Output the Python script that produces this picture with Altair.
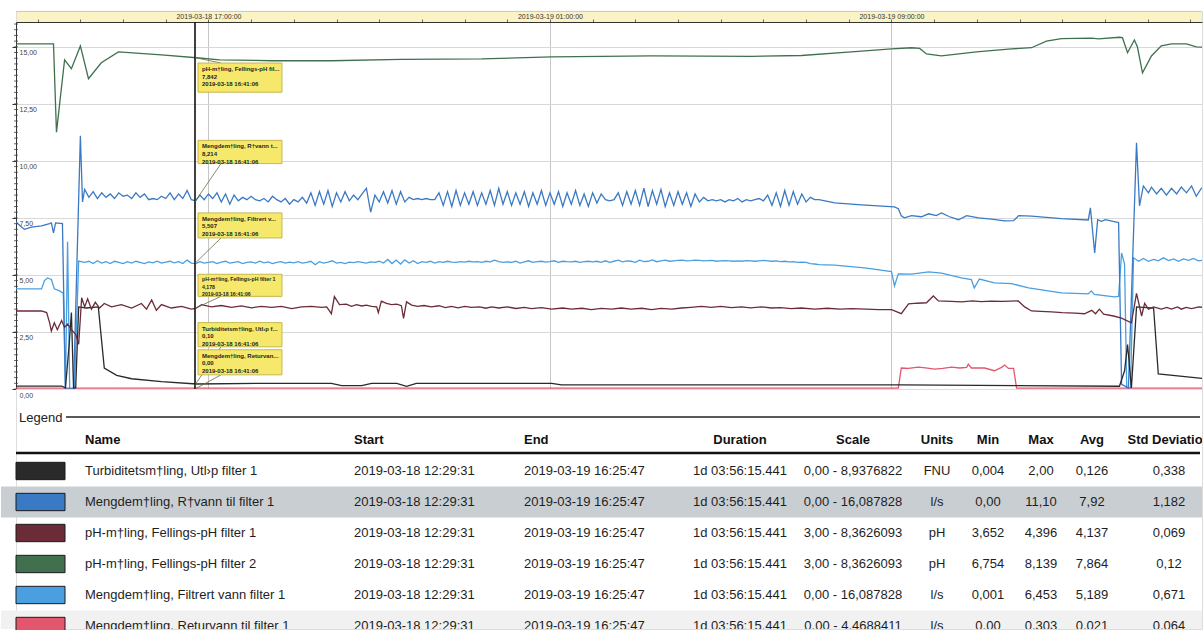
import altair as alt
import numpy as np
import pandas as pd

# ---------------------------------------------------------------- table data
NAMES = [
    "Turbiditetsm†ling, Utl›p filter 1",
    "Mengdem†ling, R†vann til filter 1",
    "pH-m†ling, Fellings-pH filter 1",
    "pH-m†ling, Fellings-pH filter 2",
    "Mengdem†ling, Filtrert vann filter 1",
    "Mengdem†ling, Returvann til filter 1",
]
STARTS = ["2019-03-18 12:29:31"] * 6
ENDS = ["2019-03-19 16:25:47"] * 6
DURATIONS = ["1d 03:56:15.441"] * 6
SCALES = ["0,00 - 8,9376822", "0,00 - 16,087828", "3,00 - 8,3626093",
          "3,00 - 8,3626093", "0,00 - 16,087828", "0,00 - 4,4688411"]
UNITS = ["FNU", "l/s", "pH", "pH", "l/s", "l/s"]
MINS = ["0,004", "0,00", "3,652", "6,754", "0,001", "0,00"]
MAXS = ["2,00", "11,10", "4,396", "8,139", "6,453", "0,303"]
AVGS = ["0,126", "7,92", "4,137", "7,864", "5,189", "0,021"]
STDS = ["0,338", "1,182", "0,069", "0,12", "0,671", "0,064"]
HEADERS = ["Name", "Start", "End", "Duration", "Scale", "Units", "Min", "Max", "Avg", "Std Deviation"]

LINE_COLORS = ["#2a2a2a", "#3a79c4", "#6b2c38", "#40704e", "#4a9fe0", "#e2566e"]
SWATCH_COLORS = ["#3f3f3d", "#2b6cb5", "#7b3e49", "#4e7e56", "#1f64c8", "#d95c6c"]

# ---------------------------------------------------------------- series data
# hours after 2019-03-18 12:00, values on the displayed axis (0 - 16,087828)
TURB_H = [0.492, 1.56, 1.65, 1.74, 1.79, 1.84, 1.89, 1.96, 2.14, 2.42, 2.56, 2.85, 3.2, 3.9, 4.72,
          6.48, 7.88, 8.12, 8.59, 8.82, 9.41, 9.64, 9.87, 13.04, 13.27, 21.23, 26.34, 26.46, 26.53,
          26.62, 26.74, 27.14, 27.25, 28.43]
TURB_V = [0.13, 0.13, 0.05, 2.0, 3.35, 0.05, 0.05, 3.6, 3.55, 3.6, 0.92, 0.6, 0.45, 0.32, 0.22,
          0.25, 0.25, 0.15, 0.15, 0.25, 0.25, 0.12, 0.25, 0.25, 0.18, 0.18, 0.12, 0.8, 1.95,
          0.05, 3.6, 3.55, 0.66, 0.44]

RAA_HEAD_H = [0.492, 0.62, 0.69, 0.85, 1.09, 1.28, 1.32, 1.37, 1.42, 1.58, 1.65, 1.84, 2.00, 2.05]
RAA_HEAD_V = [7.32, 7.10, 7.00, 7.10, 7.15, 7.25, 7.28, 6.84, 7.28, 7.25, 0.00, 0.00, 11.10, 8.20]
RAA_NOISE_V = [  # every 0.1 h from 2.1 h
    8.75, 8.40, 8.65, 8.35, 8.60, 8.40, 8.55, 8.35, 8.60, 8.45,
    8.50, 8.35, 8.60, 8.40, 8.55, 8.30, 8.35, 8.30, 8.45, 8.35,
    8.60, 8.30, 8.55, 8.35, 8.70, 8.30, 8.25, 8.50, 8.30, 8.55,
    8.35, 8.60, 8.20, 8.55, 8.10, 8.50, 8.25, 8.40, 8.30, 8.45,
    8.30, 8.25, 8.35, 8.20, 8.45, 8.30, 8.20, 8.35, 8.10, 8.30,
    8.20, 8.40, 8.15, 8.60, 8.05, 8.65, 8.10, 8.70, 8.00, 8.60,
    8.20, 8.65, 8.25, 8.50, 8.30, 8.55, 8.80, 7.75, 8.50, 8.20,
    8.65, 8.15, 8.70, 8.10, 8.65, 8.20, 8.40, 8.30, 8.35, 8.30,
    8.35, 8.30, 8.30, 8.60, 8.05, 8.65, 8.00, 8.70, 8.05, 8.60,
    8.10, 8.65, 8.05, 8.60, 8.10, 8.70, 8.05, 8.80, 8.10, 8.65,
    8.05, 8.60, 8.10, 8.65, 8.00, 8.60, 8.10, 8.70, 8.05, 8.60,
    8.10, 8.65, 8.00, 8.60, 8.10, 8.70, 8.05, 8.55, 8.00, 8.60,
    8.15, 8.55, 8.30, 8.25, 8.30, 8.60, 8.05, 8.65, 8.10, 8.70,
    8.05, 8.80, 8.00, 8.70, 8.10, 8.75, 8.00, 8.60, 8.05, 8.65,
    8.10, 8.60, 8.00, 8.55, 8.20, 8.40, 8.25, 8.30, 8.25, 8.30,
    8.20, 8.30, 8.25, 8.35, 8.20, 8.30, 8.25, 8.30, 8.35, 8.25,
    8.50, 8.05, 8.60, 8.00, 8.70, 8.05, 8.65, 8.10, 8.55, 8.20,
    8.40, 8.30, 8.30,
]
RAA_TAIL_H = [19.67, 20.30, 21.07, 21.16, 21.23, 21.30, 21.47, 21.70, 21.87, 22.05, 22.17, 22.36,
              22.57, 22.76, 23.04, 23.34, 23.65, 23.86, 23.98, 24.28, 24.98, 25.61, 25.66, 25.76,
              25.83, 25.92, 26.01, 26.27, 26.32, 26.39, 26.55, 26.74, 26.81, 26.90, 27.02, 27.09,
              27.21, 27.32, 27.44, 27.56, 27.68, 27.79, 27.91, 28.03, 28.14, 28.26, 28.43]
RAA_TAIL_V = [8.16, 8.07, 7.98, 7.90, 7.59, 7.50, 7.60, 7.55, 7.68, 7.60, 7.72, 7.55,
              7.42, 7.60, 7.50, 7.45, 7.37, 7.38, 7.60, 7.58, 7.47, 7.41, 7.94, 5.96,
              7.42, 7.35, 7.42, 7.32, 7.30, 0.20, 0.05, 10.79, 8.03, 8.90, 8.60, 8.85,
              8.55, 8.80, 8.50, 8.80, 8.55, 8.85, 8.60, 8.90, 8.45, 8.80, 8.70]

PH1_H = [0.492, 1.09, 1.21, 1.28, 1.32, 1.39, 1.46, 1.56, 1.63, 1.70, 1.79, 1.89, 1.96, 2.03, 2.10,
         2.17, 2.26, 2.35, 2.45, 2.56, 2.73, 2.96, 3.20, 3.43, 3.55, 3.67, 3.78, 3.90, 4.13, 4.37,
         4.60, 4.70, 4.84, 5.07, 5.30, 5.54, 5.77, 6.01, 6.24, 6.48, 6.71, 6.95, 7.18, 7.41, 7.65,
         7.77, 7.88, 7.95, 8.07, 8.23, 8.35, 8.47, 8.59, 8.70, 8.82, 8.94, 8.98, 9.05, 9.17, 9.29,
         9.41, 9.52, 9.57, 9.64, 9.76, 9.90, 10.05, 10.22, 10.40, 10.55, 10.69, 10.85, 11.0, 11.16,
         11.35, 11.5, 11.63, 11.8, 12.0, 12.2, 12.4, 12.57, 12.8, 13.04, 13.3, 13.5, 13.75, 13.97,
         14.2, 14.45, 14.67, 14.9, 15.15, 15.38, 15.6, 15.85, 16.08, 16.3, 16.55, 16.78, 17.0,
         17.25, 17.49, 17.7, 17.95, 18.19, 18.4, 18.65, 18.89, 19.2, 19.5, 19.8, 20.06, 20.4,
         20.7, 21.0, 21.23, 21.40, 21.6, 21.82, 21.98, 22.10, 22.4, 22.64, 22.9, 23.1, 23.34,
         23.6, 23.97, 24.12, 24.28, 24.5, 24.75, 25.0, 25.3, 25.52, 25.69, 25.78, 25.87, 25.97,
         26.2, 26.39, 26.62, 26.74, 26.86, 26.93, 27.02, 27.14, 27.32, 27.45, 27.56, 27.7, 27.79,
         27.9, 28.03, 28.2, 28.43]
PH1_V = [3.42, 3.42, 3.35, 2.9, 2.54, 2.9, 2.6, 3.0, 2.7, 2.85, 2.6, 2.4, 1.96, 4.0, 3.6,
         3.95, 3.5, 3.8, 3.55, 3.75, 3.6, 3.7, 3.55, 3.75, 3.5, 3.9, 3.45, 3.7, 3.55, 3.62,
         3.5, 3.53, 3.7, 3.6, 3.66, 3.58, 3.64, 3.56, 3.62, 3.58, 3.62, 3.52, 3.6, 3.62, 3.58,
         3.6, 3.3, 4.05, 3.7, 3.72, 3.62, 3.7, 3.64, 3.68, 3.62, 3.6, 3.35, 3.85, 3.75, 3.7,
         3.72, 3.65, 3.1, 3.82, 3.68, 3.62, 3.66, 3.6, 3.65, 3.57, 3.62, 3.56, 3.62, 3.58,
         3.6, 3.54, 3.6, 3.55, 3.6, 3.53, 3.58, 3.52, 3.57, 3.5, 3.55, 3.5, 3.54, 3.48,
         3.53, 3.5, 3.55, 3.5, 3.54, 3.48, 3.53, 3.5, 3.55, 3.58, 3.62, 3.58, 3.62,
         3.57, 3.6, 3.56, 3.6, 3.55, 3.57, 3.52, 3.55, 3.5, 3.54, 3.5, 3.52, 3.5,
         3.48, 3.48, 3.3, 3.73, 3.76, 3.78, 4.08, 3.86, 3.84, 3.82, 3.86, 3.83, 3.85,
         3.84, 3.86, 3.6, 3.42, 3.4, 3.38, 3.35, 3.33, 3.3, 3.45, 3.3, 3.5, 3.28,
         3.2, 3.11, 2.9, 4.19, 3.2, 3.75, 3.5, 3.6, 3.5, 3.58, 3.5, 3.6, 3.5,
         3.58, 3.52, 3.6, 3.55]

PH2_H = [0.492, 1.37, 1.44, 1.63, 1.79, 2.00, 2.19, 2.49, 2.89, 3.90, 4.72, 5.26, 6.48, 7.88, 9.52,
         11.40, 13.04, 15.38, 17.72, 18.89, 20.06, 21.00, 21.47, 21.66, 21.82, 22.17, 22.99, 23.81,
         24.28, 24.63, 24.98, 25.69, 25.85, 26.34, 26.41, 26.53, 26.69, 26.76, 26.88, 27.09, 27.32,
         27.56, 27.91, 28.14, 28.43]
PH2_V = [15.13, 15.13, 11.26, 14.43, 14.04, 15.04, 13.60, 14.30, 14.78, 14.65, 14.52, 14.43, 14.39,
         14.39, 14.45, 14.47, 14.56, 14.60, 14.58, 14.62, 14.78, 14.91, 14.96, 14.93, 14.69, 14.60,
         14.78, 14.91, 14.96, 15.25, 15.36, 15.38, 15.35, 15.42, 15.40, 14.74, 15.30, 15.00, 13.86,
         14.60, 15.04, 15.13, 15.13, 15.00, 14.98]

FIL_HEAD_H = [0.492, 1.09, 1.16, 1.23, 1.32, 1.39, 1.51, 1.60, 1.65, 1.70, 1.75, 1.86, 1.96]
FIL_HEAD_V = [4.39, 4.39, 4.75, 4.87, 4.80, 4.39, 4.30, 4.20, 0.00, 6.45, 0.00, 0.00, 5.61]
FIL_NOISE_V = [  # every 0.1 h from 2.1 h
    5.55, 5.60, 5.50, 5.62, 5.52, 5.58, 5.50, 5.60, 5.55, 5.50,
    5.58, 5.52, 5.60, 5.55, 5.50, 5.57, 5.53, 5.60, 5.52, 5.56,
    5.60, 5.53, 5.58, 5.50, 5.65, 5.52, 5.50, 5.58, 5.52, 5.55,
    5.58, 5.50, 5.56, 5.60, 5.52, 5.55, 5.58, 5.50, 5.55, 5.57,
    5.52, 5.60, 5.53, 5.57, 5.50, 5.55, 5.58, 5.52, 5.56, 5.53,
    5.58, 5.52, 5.55, 5.60, 5.45, 5.58, 5.52, 5.56, 5.62, 5.52,
    5.55, 5.50, 5.56, 5.54, 5.58, 5.55, 5.52, 5.57, 5.55, 5.60,
    5.52, 5.68, 5.50, 5.65, 5.48, 5.66, 5.52, 5.62, 5.50, 5.58,
    5.55, 5.60, 5.52, 5.58, 5.55, 5.60, 5.56, 5.55, 5.58, 5.56,
    5.60, 5.57, 5.58, 5.55, 5.60, 5.57, 5.65, 5.58, 5.55, 5.57,
    5.55, 5.60, 5.52, 5.57, 5.62, 5.55, 5.58, 5.60, 5.56, 5.58,
    5.62, 5.55, 5.60, 5.58, 5.57, 5.60, 5.55, 5.58, 5.60, 5.57,
    5.60, 5.55, 5.62, 5.55, 5.60, 5.65, 5.57, 5.62, 5.60, 5.55,
    5.65, 5.58, 5.60, 5.66, 5.58, 5.62, 5.65, 5.60, 5.62, 5.64,
    5.65, 5.62, 5.63, 5.65, 5.64, 5.62, 5.63, 5.64, 5.60, 5.62,
    5.63, 5.62, 5.60, 5.62, 5.60, 5.63, 5.62, 5.60, 5.62, 5.64,
    5.62, 5.60, 5.62, 5.58, 5.60, 5.57, 5.58, 5.55, 5.56, 5.55,
    5.50, 5.48, 5.45,
]
FIL_TAIL_H = [19.67, 20.37, 21.00, 21.07, 21.16, 21.47, 21.87, 22.17, 22.64, 22.87, 22.94, 23.06,
              23.41, 23.81, 24.21, 24.98, 25.61, 25.68, 25.75, 26.22, 26.32, 26.39, 26.46, 26.51,
              26.60, 26.67, 26.79, 26.90, 27.02, 27.14, 27.25, 27.37, 27.49, 27.61, 27.72, 27.84,
              27.96, 28.07, 28.19, 28.43]
FIL_TAIL_V = [5.43, 5.31, 5.15, 4.52, 5.05, 5.04, 5.13, 5.08, 4.87, 4.80, 4.43, 4.82,
              4.65, 4.62, 4.43, 4.21, 4.17, 4.30, 4.15, 4.04, 4.06, 5.96, 5.48, 0.05,
              0.05, 5.75, 5.60, 5.72, 5.60, 5.68, 5.62, 5.75, 5.63, 5.70, 5.60, 5.70,
              5.64, 5.72, 5.62, 5.68]

RET_H = [0.492, 21.16, 21.23, 21.4, 21.63, 21.8, 22.01, 22.2, 22.41, 22.6, 22.76, 22.80, 22.87,
         23.18, 23.41, 23.58, 23.65, 23.74, 23.86, 23.93, 28.43]
RET_V = [0.04, 0.04, 0.92, 0.90, 0.96, 0.93, 0.87, 0.90, 0.96, 0.92, 0.95, 1.09, 0.92,
         0.92, 0.80, 0.95, 1.05, 0.90, 0.90, 0.04, 0.04]

# cursor read-outs (tooltips)
CURSOR = "2019-03-18 16:41:06"
ANN_LABELS = ["pH-m†ling, Fellings-pH fil...", "Mengdem†ling, R†vann t...",
              "Mengdem†ling, Filtrert v...", "pH-m†ling, Fellings-pH filter 1",
              "Turbiditetsm†ling, Utl›p f...", "Mengdem†ling, Returvan..."]
ANN_VALUES = ["7,842", "8,214", "5,507", "4,178", "0,10", "0,00"]
ANN_SERIES = [3, 1, 4, 2, 0, 5]
BOX_TOP = [14.29, 10.90, 7.72, 5.03, 2.91, 1.72]
BOX_BOTTOM = [13.01, 9.88, 6.62, 4.06, 1.85, 0.62]
ANN_FONT = [6, 6, 6, 5.2, 6, 6]

AXIS_MAX = 16.087828

# ---------------------------------------------------------------- frames
BASE = pd.Timestamp("2019-03-18 12:00:00")


def frame(name, hours, values):
    t = BASE + pd.to_timedelta(np.asarray(hours, dtype=float), unit="h")
    return pd.DataFrame({"series": name, "time": t, "value": np.asarray(values, dtype=float)})


def noise_hours(vals):
    return list(np.round(2.1 + 0.1 * np.arange(len(vals)), 3))


lines_df = pd.concat([
    frame(NAMES[0], TURB_H, TURB_V),
    frame(NAMES[1], RAA_HEAD_H + noise_hours(RAA_NOISE_V) + RAA_TAIL_H,
          RAA_HEAD_V + RAA_NOISE_V + RAA_TAIL_V),
    frame(NAMES[2], PH1_H, PH1_V),
    frame(NAMES[3], PH2_H, PH2_V),
    frame(NAMES[4], FIL_HEAD_H + noise_hours(FIL_NOISE_V) + FIL_TAIL_H,
          FIL_HEAD_V + FIL_NOISE_V + FIL_TAIL_V),
    frame(NAMES[5], RET_H, RET_V),
]).sort_values(["series", "time"]).reset_index(drop=True)


def to_axis(val_txt, scale_txt):
    lo, hi = [float(s.strip().replace(",", ".")) for s in scale_txt.split(" - ")]
    v = float(val_txt.replace(",", "."))
    return (v - lo) / (hi - lo) * AXIS_MAX


ann_rows = []
for i, lab in enumerate(ANN_LABELS):
    s = ANN_SERIES[i]
    pv = to_axis(ANN_VALUES[i], SCALES[s])
    attach = BOX_TOP[i] if pv > BOX_TOP[i] else BOX_BOTTOM[i]
    ann_rows.append({
        "t": pd.Timestamp(CURSOR), "pv": pv, "top": BOX_TOP[i], "bot": BOX_BOTTOM[i],
        "attach": attach, "fs": ANN_FONT[i],
        "label": lab + "\n" + ANN_VALUES[i] + "\n" + CURSOR,
    })
ann_df = pd.DataFrame(ann_rows)

# ---------------------------------------------------------------- main plot
W = 1186
H = 367
BAND_H = 11
FONT = "Liberation Sans"

xscale = alt.Scale(domain=[
    alt.DateTime(year=2019, month=3, date=18, hours=12, minutes=29, seconds=31),
    alt.DateTime(year=2019, month=3, date=19, hours=16, minutes=16, seconds=26),
])
yscale = alt.Scale(domain=[0, AXIS_MAX], nice=False, zero=False)

hour_ticks = [alt.DateTime(year=2019, month=3, date=18 + hh // 24, hours=hh % 24)
              for hh in range(13, 41)]

x_axis = alt.Axis(
    orient="top", values=hour_ticks, title=None,
    labelExpr="hours(datum.value) % 8 == 1 ? timeFormat(datum.value, '%Y-%m-%d %H:%M:%S') : ''",
    grid=True,
    gridColor={"condition": {"test": "hours(datum.value) % 8 == 1", "value": "#c6c6c6"},
               "value": "transparent"},
    tickSize=3, tickColor="#666", domainColor="#333", domainWidth=1,
    labelFontSize=7, labelColor="#333", labelFont=FONT, labelPadding=3,
    labelBaseline="middle", labelFlush=False, labelOverlap=False,
)
y_axis = alt.Axis(
    orient="left", values=[0, 2.5, 5, 7.5, 10, 12.5, 15], title=None, grid=True,
    gridColor="#d8d8d8", tickSize=4, tickColor="#333", domainColor="#333",
    labelAlign="left", labelBaseline="top", labelPadding=-7, labelOffset=2,
    labelFontSize=7, labelColor="#444", labelFont=FONT,
    labelExpr="replace(format(datum.value, '.2f'), '.', ',')",
)


def X(field):
    return alt.X(field, scale=xscale, axis=x_axis)


def Y(field):
    return alt.Y(field, scale=yscale, axis=y_axis)


# yellow time band above the plot (its own small view, the time labels sit on it)
band = alt.Chart(pd.DataFrame({"a": [0]})).mark_rule(color="#c4c4c4", strokeWidth=0.8).encode(
    x=alt.value(0), x2=alt.value(W - 1), y=alt.value(0.4)
).properties(width=W, height=BAND_H, view=alt.ViewBackground(fill="#faf3c6"))

lines = alt.Chart(lines_df).mark_line(strokeWidth=1.3, clip=True).encode(
    x=X("time:T"),
    y=Y("value:Q"),
    color=alt.Color("series:N", scale=alt.Scale(domain=NAMES, range=LINE_COLORS), legend=None),
)

minor = alt.Chart(pd.DataFrame({"v": np.arange(0, 16.01, 0.25)})).mark_rule(
    color="#444", strokeWidth=0.8).encode(
    y=Y("v:Q"), x=alt.value(-2), x2=alt.value(2))

cursor = alt.Chart(pd.DataFrame({"t": [pd.Timestamp(CURSOR)]})).mark_rule(
    color="#111", strokeWidth=1.6).encode(x=X("t:T"))

connectors = alt.Chart(ann_df).mark_rule(color="#6d6a45", strokeWidth=0.8, x2Offset=26).encode(
    x=X("t:T"), x2="t:T", y=Y("pv:Q"), y2="attach:Q")

boxes = alt.Chart(ann_df).mark_rect(
    fill="#f6e86a", stroke="#b9a83a", strokeWidth=0.8, xOffset=3, x2Offset=87).encode(
    x=X("t:T"), x2="t:T", y=Y("top:Q"), y2="bot:Q")

box_text = alt.Chart(ann_df).mark_text(
    align="left", baseline="top", dx=7, dy=3, lineBreak="\n", lineHeight=7.6,
    font=FONT, color="#1e1e1e", fontWeight="bold").encode(
    x=X("t:T"), y=Y("top:Q"),
    text="label:N", size=alt.Size("fs:Q", scale=None, legend=None))

main = alt.layer(lines, minor, cursor, connectors, boxes, box_text).properties(
    width=W, height=H)

# ---------------------------------------------------------------- legend table
TH = 240
TX = alt.Scale(domain=list(range(-1, 13)),
               range=[-10, 0, 49, 69, 338, 508, 724, 837, 921, 972, 1025, 1076, 1153, W],
               zero=False, nice=False)
TY = alt.Scale(domain=[-1.645, 6.097], range=[0, TH], zero=False, nice=False)

cols = [NAMES, STARTS, ENDS, DURATIONS, SCALES, UNITS, MINS, MAXS, AVGS, STDS]
cells = []
for c, col in enumerate(cols):
    cells.append({"r": 0, "ci": c + 2, "txt": HEADERS[c], "head": True, "left": c < 3})
    for r, val in enumerate(col):
        cells.append({"r": r + 1, "ci": c + 2, "txt": val, "head": False, "left": c < 3})
cells_df = pd.DataFrame(cells)

bg_df = pd.DataFrame({"lo": [1.5, 5.5], "hi": [2.5, 6.097], "fill": ["#c9ced3", "#f1f1f1"]})
bg = alt.Chart(bg_df).mark_rect().encode(
    x=alt.value(-15), x2=alt.value(W),
    y=alt.Y("lo:Q", scale=TY, axis=None), y2="hi:Q",
    color=alt.Color("fill:N", scale=None))

sw_df = pd.DataFrame({"name": NAMES, "x0": 0, "x1": 1,
                      "lo": [r + 1 - 0.28 for r in range(6)],
                      "hi": [r + 1 + 0.28 for r in range(6)]})
swatches = alt.Chart(sw_df).mark_rect(stroke="#1b1b1b", strokeWidth=1).encode(
    x=alt.X("x0:Q", scale=TX, axis=None), x2="x1:Q",
    y=alt.Y("lo:Q", scale=TY, axis=None), y2="hi:Q",
    color=alt.Color("name:N", scale=alt.Scale(domain=NAMES, range=SWATCH_COLORS), legend=None))


def text_layer(head, left):
    sub = cells_df[(cells_df["head"] == head) & (cells_df["left"] == left)]
    return alt.Chart(sub).mark_text(
        align="left" if left else "center", baseline="middle", fontSize=13, font=FONT,
        fontWeight="bold" if head else "normal", color="#111" if head else "#1e1e1e",
        clip=True).encode(
        x=alt.X("ci:Q", scale=TX, axis=None),
        y=alt.Y("r:Q", scale=TY, axis=None),
        text="txt:N")


legend_line = alt.Chart(pd.DataFrame({"r": [-0.742]})).mark_rule(color="#222", strokeWidth=1.5).encode(
    x=alt.value(50), x2=alt.value(W - 2), y=alt.Y("r:Q", scale=TY, axis=None))
head_line = alt.Chart(pd.DataFrame({"r": [0.42]})).mark_rule(color="#111", strokeWidth=2.5).encode(
    x=alt.value(0), x2=alt.value(W - 2), y=alt.Y("r:Q", scale=TY, axis=None))
legend_title = alt.Chart(pd.DataFrame({"r": [-0.71], "txt": ["Legend"]})).mark_text(
    align="left", baseline="middle", fontSize=13, font=FONT, color="#222").encode(
    x=alt.value(3), y=alt.Y("r:Q", scale=TY, axis=None), text="txt:N")

table = alt.layer(
    bg, swatches, legend_line, head_line, legend_title,
    text_layer(True, True), text_layer(True, False),
    text_layer(False, True), text_layer(False, False),
).properties(width=W, height=TH)

chart = alt.vconcat(band, main, table, spacing=0, bounds="flush").properties(
    padding={"left": 0, "top": 10, "right": 0, "bottom": 0},
    background="white",
).configure_view(stroke=None).configure(font=FONT)

chart.save("out.html", embed_options={"renderer": "svg", "actions": False})
